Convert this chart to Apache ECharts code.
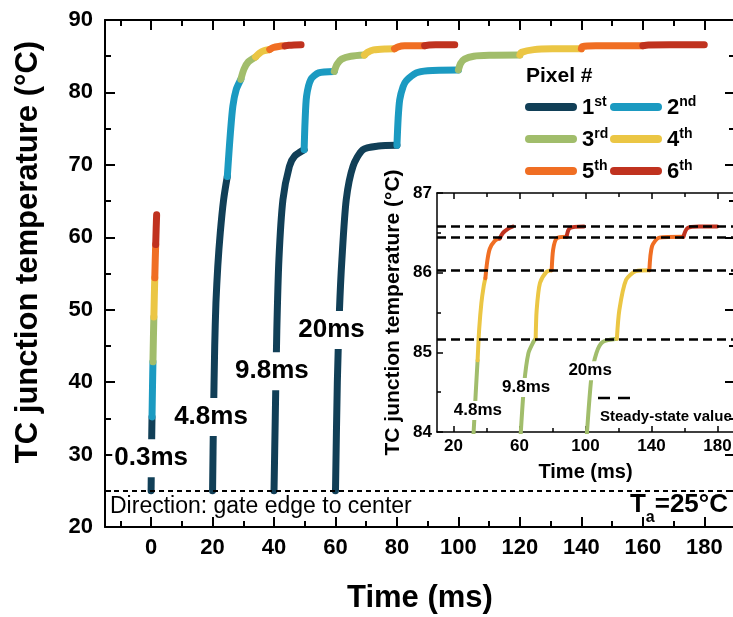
<!DOCTYPE html>
<html>
<head>
<meta charset="utf-8">
<script src="https://cdn.jsdelivr.net/npm/echarts@6/dist/echarts.min.js"></script>
<style>
  html, body { margin: 0; padding: 0; background: #fff; }
  #chart { width: 733px; height: 617px; }
</style>
</head>
<body>
<div id="chart"></div>
<script>
// pixel names / colours
const pixelNames = ['1st', '2nd', '3rd', '4th', '5th', '6th'];
const pixelColors = ['#113f57', '#1b9ac1', '#a1bd6b', '#ebc644', '#f06e23', '#c0321f'];
const pulseLabels = ['0.3ms', '4.8ms', '9.8ms', '20ms'];

// tick values
const xMajor = [0, 20, 40, 60, 80, 100, 120, 140, 160, 180];
const xMinor = [-10, 10, 30, 50, 70, 90, 110, 130, 150, 170];
const insetXMajor = [20, 60, 100, 140, 180];
const insetXMinor = [40, 80, 120, 160];

// main panel: one point list per pixel (1st..6th), [time ms, temp C]
const main03 = [
  [[0, 25], [0.1, 29], [0.2, 32.5], [0.3, 35.2]],
  [[0.3, 35.2], [0.45, 39.2], [0.6, 42.8]],
  [[0.6, 42.8], [0.75, 46.1], [0.9, 49]],
  [[0.9, 49], [1.05, 51.9], [1.2, 54.4]],
  [[1.2, 54.4], [1.35, 56.9], [1.5, 59]],
  [[1.5, 59], [1.65, 61.2], [1.8, 63.1]]
];
const main48 = [
  [[20, 25], [20.3, 35], [20.7, 45], [21.1, 51], [21.7, 56], [22.5, 60.6], [23.6, 65.2], [24.8, 68.4]],
  [[24.8, 68.4], [25.3, 71.5], [25.8, 74.4], [26.6, 78.1], [27.7, 80.4], [29.2, 81.8]],
  [[29.2, 81.8], [30.2, 83.2], [31.6, 84.2], [34, 84.9]],
  [[34, 84.9], [35.2, 85.4], [36.7, 85.75], [38.6, 85.93]],
  [[38.6, 85.93], [39.8, 86.2], [41.5, 86.35], [43.6, 86.43]],
  [[43.6, 86.43], [44.8, 86.5], [46.5, 86.55], [48.8, 86.58]]
];
const main98 = [
  [[40, 25], [40.4, 35], [40.9, 47], [41.6, 57], [42.9, 65.2], [45, 69.8], [46.7, 71.2], [49.8, 72.1]],
  [[49.8, 72.1], [50.1, 76], [50.6, 79.5], [52, 81.8], [54.5, 82.7], [59.6, 82.9]],
  [[59.6, 82.9], [60.5, 83.9], [62, 84.6], [65, 85.0], [69.4, 85.17]],
  [[69.4, 85.17], [70.4, 85.53], [72.4, 85.87], [76.4, 86.01], [79.2, 86.03]],
  [[79.2, 86.03], [80.4, 86.29], [82.5, 86.43], [89, 86.45]],
  [[89, 86.45], [90.5, 86.55], [93, 86.57], [98.8, 86.58]]
];
const main20 = [
  [[60, 25], [60.6, 40], [61.3, 50], [62.1, 57], [63.5, 65.2], [65.7, 69.8], [68.9, 72.1], [74, 72.6], [80, 72.7]],
  [[80, 72.7], [80.4, 76.5], [80.9, 79], [82, 80.8], [83, 81.6], [86.3, 82.7], [90, 83.0], [100, 83.1]],
  [[100, 83.1], [100.7, 84.0], [102, 84.6], [105, 85.0], [110, 85.13], [120, 85.17]],
  [[120, 85.17], [120.5, 85.53], [124.6, 85.91], [130.6, 86.02], [140, 86.03]],
  [[140, 86.03], [140.3, 86.33], [144.7, 86.44], [160, 86.45]],
  [[160, 86.45], [161.8, 86.55], [168.8, 86.58], [180, 86.58]]
];

// inset (84-87 C): pixels 3rd..6th
const inset48 = [
  [[31.8, 83.9], [32.2, 84.0], [33.5, 84.5], [34.6, 84.9]],
  [[34.6, 84.9], [35.6, 85.3], [36.9, 85.62], [38.3, 85.83], [39.3, 85.93]],
  [[39.3, 85.93], [40.5, 86.15], [42, 86.3], [45, 86.4], [48, 86.43]],
  [[48, 86.43], [50, 86.5], [53, 86.55], [56, 86.58]]
];
const inset98 = [
  [[60.6, 83.9], [60.8, 84.0], [62.8, 84.6], [65.4, 84.99], [68.4, 85.13], [69.8, 85.17]],
  [[69.8, 85.17], [70.4, 85.53], [72.4, 85.87], [76.4, 86.01], [79.5, 86.03]],
  [[79.5, 86.03], [80.4, 86.29], [82.5, 86.43], [88.5, 86.45]],
  [[88.5, 86.45], [90.5, 86.56], [99.1, 86.58]]
];
const inset20 = [
  [[100.7, 83.9], [100.9, 84.0], [103.6, 84.69], [106.6, 84.99], [110.5, 85.13], [119, 85.17]],
  [[119, 85.17], [120.5, 85.53], [124.6, 85.91], [130.6, 86.02], [138.7, 86.03]],
  [[138.7, 86.03], [140.3, 86.33], [144.7, 86.44], [159.3, 86.45]],
  [[159.3, 86.45], [161.8, 86.56], [168.8, 86.58], [179.8, 86.58]]
];
const steadyValues = [85.17, 86.03, 86.45, 86.58];
const ambientTemp = 25;

// where the pulse-width labels sit (data coords)
const mainLabelAt = [[0, 29.5], [19.5, 35.2], [39.3, 41.5], [58.7, 47.2]];
const insetLabelAt = [[34.8, 84.27], [64, 84.56], [102.8, 84.77]];

const FONT = '"Liberation Sans", Arial, sans-serif';
const capsule = 'path://M4 0H48A4 4 0 0 1 48 8H4A4 4 0 0 1 4 0Z';

let series = [];
[main03, main48, main98, main20].forEach(curve => {
  curve.forEach((pts, i) => {
    series.push({
      name: pixelNames[i], type: 'line', xAxisIndex: 0, yAxisIndex: 0,
      data: pts, symbol: 'none', smooth: 0.25, color: pixelColors[i], silent: true, z: 3,
      lineStyle: {width: 7, cap: 'round', join: 'round'}
    });
  });
});
[inset48, inset98, inset20].forEach(curve => {
  curve.forEach((pts, i) => {
    series.push({
      name: pixelNames[i + 2], type: 'line', xAxisIndex: 4, yAxisIndex: 2,
      data: pts, symbol: 'none', smooth: 0.25, color: pixelColors[i + 2], silent: true, z: 3,
      lineStyle: {width: 4, cap: 'round', join: 'round'}
    });
  });
});

// reference lines
series.push({
  type: 'line', xAxisIndex: 0, yAxisIndex: 0, data: [], silent: true, z: 2,
  markLine: {silent: true, symbol: 'none', label: {show: false},
    lineStyle: {type: [5, 4], color: '#000', width: 2},
    data: [{yAxis: ambientTemp}]}
});
series.push({
  type: 'line', xAxisIndex: 4, yAxisIndex: 2, data: [], silent: true, z: 2,
  markLine: {silent: true, symbol: 'none', label: {show: false},
    lineStyle: {type: [9, 5], color: '#000', width: 2.5},
    data: steadyValues.map(v => ({yAxis: v}))}
});

// pulse width labels (white box hides the line underneath)
series.push({
  type: 'scatter', xAxisIndex: 0, yAxisIndex: 0, symbolSize: 0, silent: true, z: 10,
  itemStyle: {opacity: 1},
  data: mainLabelAt.map((p, k) => [p[0], p[1], pulseLabels[k]]),
  label: {show: true, position: 'inside', formatter: p => p.value[2], fontFamily: FONT, opacity: 1,
    fontSize: 26, fontWeight: 'bold', color: '#000', backgroundColor: '#fff', padding: [6, 2]}
});
series.push({
  type: 'scatter', xAxisIndex: 4, yAxisIndex: 2, symbolSize: 0, silent: true, z: 10,
  itemStyle: {opacity: 1},
  data: insetLabelAt.map((p, k) => [p[0], p[1], pulseLabels[k + 1]]),
  label: {show: true, position: 'inside', formatter: p => p.value[2], fontFamily: FONT, opacity: 1,
    fontSize: 17, fontWeight: 'bold', color: '#000', backgroundColor: '#fff', padding: [1, 1]}
});

const blk = {color: '#000', width: 2};
const thin = {color: '#000', width: 1.5};

function xAx(grid, min, max, pos, ticks, len, line, lab) {
  return {
    type: 'value', gridIndex: grid, min: min, max: max, position: pos,
    axisLine: line ? {show: true, onZero: false, lineStyle: line} : {show: false, onZero: false},
    axisTick: {show: true, inside: true, length: len, customValues: ticks, lineStyle: grid ? thin : blk},
    axisLabel: lab || {show: false},
    splitLine: {show: false}
  };
}

const option = {
  backgroundColor: '#fff',
  animation: false,
  textStyle: {fontFamily: FONT},
  grid: [
    {left: 105, top: 20, right: -2, bottom: 90, outerBoundsMode: 'none'},
    {left: 437, top: 193, right: -1, bottom: 185, outerBoundsMode: 'none'}
  ],
  xAxis: [
    Object.assign(xAx(0, -15, 190, 'bottom', xMajor, 10, blk,
      {customValues: xMajor, fontSize: 22, fontWeight: 'bold', color: '#000', margin: 10, fontFamily: FONT}),
      {name: 'Time (ms)', nameLocation: 'middle', nameGap: 56,
        nameTextStyle: {fontSize: 31, fontWeight: 'bold', color: '#000', fontFamily: FONT}}),
    xAx(0, -15, 190, 'bottom', xMinor, 6, null),
    xAx(0, -15, 190, 'top', xMajor, 10, blk),
    xAx(0, -15, 190, 'top', xMinor, 6, null),
    Object.assign(xAx(1, 10, 190, 'bottom', insetXMajor, 6, thin,
      {customValues: insetXMajor, fontSize: 17, fontWeight: 'bold', color: '#000', margin: 6, fontFamily: FONT}),
      {name: 'Time (ms)', nameLocation: 'middle', nameGap: 30,
        nameTextStyle: {fontSize: 20, fontWeight: 'bold', color: '#000', fontFamily: FONT}}),
    xAx(1, 10, 190, 'bottom', insetXMinor, 4, null),
    xAx(1, 10, 190, 'top', insetXMajor, 6, thin),
    xAx(1, 10, 190, 'top', insetXMinor, 4, null)
  ],
  yAxis: [
    {
      type: 'value', gridIndex: 0, min: 20, max: 90, interval: 10, position: 'left',
      axisLine: {show: true, onZero: false, lineStyle: blk},
      axisTick: {show: true, inside: true, length: 10, lineStyle: blk},
      minorTick: {show: true, splitNumber: 2, length: 6, lineStyle: blk},
      axisLabel: {fontSize: 22, fontWeight: 'bold', color: '#000', margin: 12, fontFamily: FONT},
      splitLine: {show: false}, minorSplitLine: {show: false}
    },
    {
      type: 'value', gridIndex: 0, min: 20, max: 90, interval: 10, position: 'right',
      axisLine: {show: true, onZero: false, lineStyle: blk},
      axisTick: {show: true, inside: true, length: 10, lineStyle: blk},
      minorTick: {show: true, splitNumber: 2, length: 6, lineStyle: blk},
      axisLabel: {show: false}, splitLine: {show: false}, minorSplitLine: {show: false}
    },
    {
      type: 'value', gridIndex: 1, min: 84, max: 87, interval: 1, position: 'left',
      axisLine: {show: true, onZero: false, lineStyle: thin},
      axisTick: {show: true, inside: true, length: 6, lineStyle: thin},
      minorTick: {show: true, splitNumber: 2, length: 4, lineStyle: thin},
      axisLabel: {fontSize: 17, fontWeight: 'bold', color: '#000', margin: 5, fontFamily: FONT},
      splitLine: {show: false}, minorSplitLine: {show: false},
      name: 'TC junction temperature (°C)', nameLocation: 'middle', nameGap: 33,
      nameTextStyle: {fontSize: 21, fontWeight: 'bold', color: '#000', fontFamily: FONT}
    }
  ],
  legend: [['1st', '3rd', '5th'], ['2nd', '4th', '6th']].map((names, c) => ({
    data: names, orient: 'vertical', left: c ? 605 : 520, top: 90,
    itemWidth: 52, itemHeight: 8, itemGap: 8, icon: capsule, selectedMode: false,
    formatter: n => '{n|' + n.charAt(0) + '}{s|' + n.slice(1) + '}',
    textStyle: {
      color: '#000', fontFamily: FONT,
      rich: {
        n: {fontSize: 22, fontWeight: 'bold', lineHeight: 24, verticalAlign: 'bottom', fontFamily: FONT, color: '#000'},
        s: {fontSize: 14, fontWeight: 'bold', lineHeight: 14, verticalAlign: 'top', fontFamily: FONT, color: '#000'}
      }
    }
  })),
  graphic: [
    {type: 'text', x: 28, y: 252, rotation: Math.PI / 2,
      style: {text: 'TC junction temperature (°C)', font: 'bold 31px ' + FONT, fill: '#000', align: 'center', verticalAlign: 'middle'}},
    {type: 'text', x: 526, y: 76,
      style: {text: 'Pixel #', font: 'bold 21px ' + FONT, fill: '#000', align: 'left', verticalAlign: 'middle'}},
    {type: 'text', x: 110, y: 507,
      style: {text: 'Direction: gate edge to center', font: '23px ' + FONT, fill: '#000', align: 'left', verticalAlign: 'middle'}},
    {type: 'text', x: 728, y: 509,
      style: {text: '{t|T}{a|a}{t|=25°C}', fill: '#000', align: 'right', verticalAlign: 'middle',
        rich: {
          t: {font: 'bold 26px ' + FONT, lineHeight: 34, verticalAlign: 'top'},
          a: {font: 'bold 16px ' + FONT, lineHeight: 16, verticalAlign: 'bottom'}
        }}},
    {type: 'line', shape: {x1: 598, y1: 398, x2: 630, y2: 398},
      style: {stroke: '#000', lineWidth: 2.5, lineDash: [12, 8]}},
    {type: 'text', x: 600, y: 417,
      style: {text: 'Steady-state value', font: 'bold 15px ' + FONT, fill: '#000', align: 'left', verticalAlign: 'middle'}}
  ],
  series: series
};

const myChart = echarts.init(document.getElementById('chart'));
myChart.setOption(option);
</script>
</body>
</html>
